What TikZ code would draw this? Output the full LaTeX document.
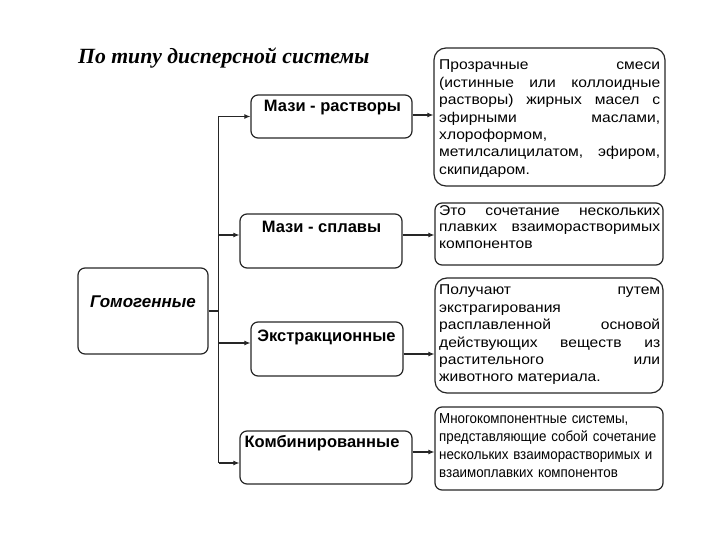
\documentclass[tikz,border=0pt]{standalone}
\usepackage{fontspec}
\setmainfont{Liberation Sans}
\newfontfamily\titlefont{Liberation Serif}
\newfontfamily\widefont{Liberation Sans}[FakeStretch=1.1]
\newfontfamily\narrowfont{Liberation Sans}[FakeStretch=0.92]
\usetikzlibrary{arrows.meta}
\hyphenpenalty=10000

\begin{document}
\begin{tikzpicture}[x=1pt,y=-1pt,
  frame/.style={draw=black!85, line width=1.2pt, rounded corners=7pt, inner sep=0pt},
  kind/.style={inner sep=0pt, font=\fontsize{16.5}{19}\selectfont\bfseries},
  note/.style={anchor=north west, inner sep=0pt, text width=221pt, align=justify,
    font=\widefont\fontsize{14.2}{17.4}\selectfont},
  link/.style={draw=black!85, line width=1.1pt},
  arr/.style={link, -{Latex[length=6pt,width=5pt]}}]
\useasboundingbox (0,0) rectangle (720,540);

\node[anchor=west, inner sep=0pt, font=\titlefont\fontsize{21.7}{24}\selectfont\bfseries\itshape] (title) at (78,58) {По типу дисперсной системы};

% boxes
\node[frame, minimum width=130pt, minimum height=86pt] (gom) at (143,311) {};
\node[frame, minimum width=161pt, minimum height=43pt] (b1) at (331.5,116.5) {};
\node[frame, minimum width=162pt, minimum height=54pt] (b2) at (321,241) {};
\node[frame, minimum width=152pt, minimum height=54pt] (b3) at (327,349) {};
\node[frame, minimum width=172pt, minimum height=53pt] (b4) at (326,457.5) {};

\node[frame, rounded corners=12pt, minimum width=231pt, minimum height=138pt] (tA) at (549.5,117) {};
\node[frame, minimum width=228pt, minimum height=62pt] (tB) at (549,234) {};
\node[frame, rounded corners=12pt, minimum width=228pt, minimum height=115pt] (tC) at (549,335.5) {};
\node[frame, minimum width=228pt, minimum height=83pt] (tD) at (549,448.5) {};

% labels
\node[kind, font=\fontsize{17}{20}\selectfont\bfseries\itshape] (gomt) at (143,302) {Гомогенные};
\node[kind] (l1) at (332.5,108) {Мази - растворы};
\node[kind] (l2) at (321.5,227) {Мази - сплавы};
\node[kind] (l3) at (326.5,337) {Экстракционные};
\node[kind] (l4) at (322,443) {Комбинированные};

\node[note] (xA) at (439,60) {\tolerance=9999 Прозрачные смеси\linebreak
  (истинные или коллоидные\linebreak растворы) жирных масел с\linebreak
  эфирными маслами,\linebreak хлороформом,\\ метилсалицилатом, эфиром,\linebreak скипидаром.};
\node[note, font=\widefont\fontsize{14.2}{16.5}\selectfont] (xB) at (439,205) {\tolerance=9999 Это сочетание нескольких\linebreak
  плавких взаиморастворимых\linebreak компонентов};
\node[note] (xC) at (439,285) {\tolerance=9999 Получают путем\linebreak
  экстрагирования\\ расплавленной основой\linebreak действующих веществ из\linebreak
  растительного или\linebreak животного материала.};
\node[note, align=left, font=\narrowfont\fontsize{14.5}{18}\selectfont] (xD) at (439,413) {Многокомпонентные системы,\\
  представляющие собой сочетание\\ нескольких взаиморастворимых и\\ взаимоплавких компонентов};

% connectors
\coordinate (fork) at ([xshift=10pt]gom.east);
\draw[link] (gom.east) -- (fork);
\foreach \b/\d in {1/0,2/6,3/6,4/-5.5}{
  \coordinate (in\b) at ([yshift=\d pt]b\b.west);
  \draw[arr] (fork |- in\b) -- (in\b);
}
\draw[link] (fork |- in1) -- (fork |- in4);
\foreach \b/\t/\d in {1/A/1.5,2/B/6,3/C/-5,4/D/5.5}{
  \coordinate (out\b) at ([yshift=\d pt]b\b.east);
  \draw[arr] (out\b) -- (out\b -| t\t.west);
}
\end{tikzpicture}
\end{document}
